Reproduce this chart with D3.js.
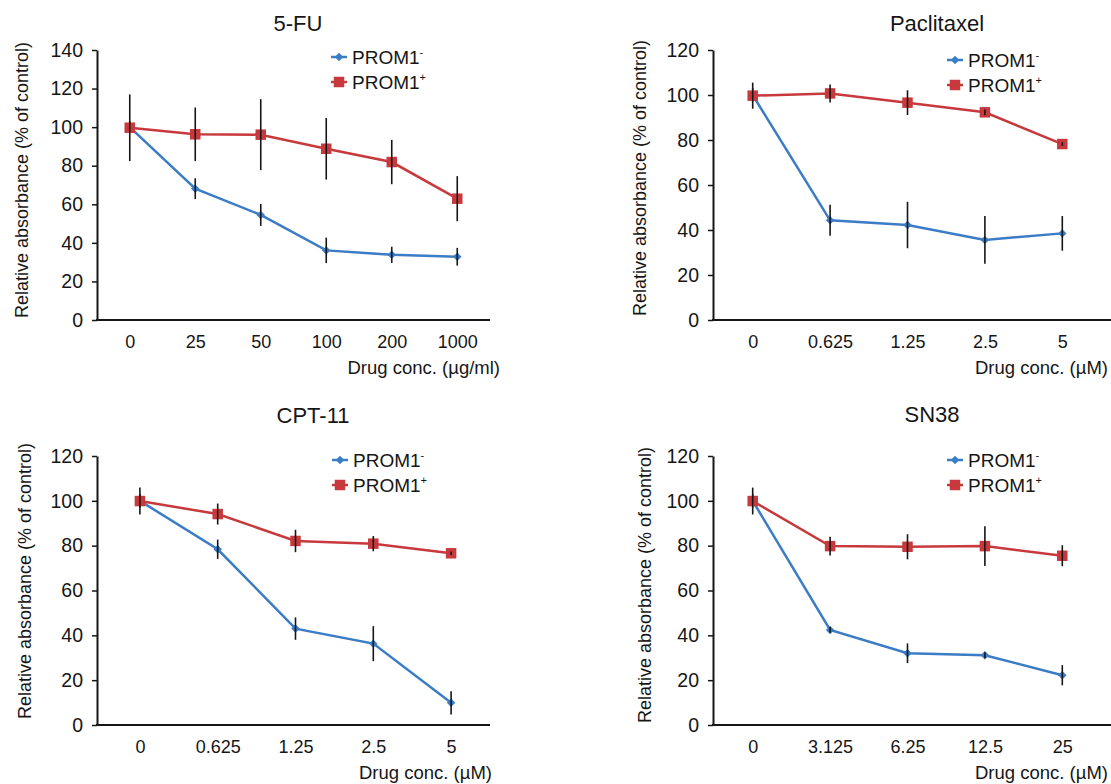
<!DOCTYPE html>
<html>
<head>
<meta charset="utf-8">
<script src="https://cdn.jsdelivr.net/npm/d3@7"></script>
<style>
  body { margin: 0; background: #fff; }
  svg { display: block; font-family: 'Liberation Sans', Arial, sans-serif; }
</style>
</head>
<body>
<svg></svg>
<script>
// global settings

var w = 1111
var h = 784

var blue = '#3b7cc6'
var red = '#c7393c'
var ink = '#161616'

var titles = ['5-FU', 'Paclitaxel', 'CPT-11', 'SN38']
var xUnits = ['Drug conc. (µg/ml)', 'Drug conc. (µM)', 'Drug conc. (µM)', 'Drug conc. (µM)']
var yMax = [140, 120, 120, 120]
var seriesNames = ['PROM1', 'PROM1']
var seriesSup = ['-', '+']

// 5-FU
var doses5FU = ['0', '25', '50', '100', '200', '1000']
var neg5FU = [100, 68.1, 54.5, 36.1, 33.8, 32.8]
var negErr5FU = [3, 5.4, 5.7, 6.6, 4.2, 4.6]
var pos5FU = [99.7, 96.3, 96.1, 88.8, 81.9, 62.9]
var posErr5FU = [17.3, 13.9, 18.4, 16, 11.5, 11.7]

// Paclitaxel
var dosesPac = ['0', '0.625', '1.25', '2.5', '5']
var negPac = [100, 44.3, 42.2, 35.6, 38.5]
var negErrPac = [3, 6.9, 10.3, 10.6, 7.7]
var posPac = [99.7, 100.7, 96.6, 92.3, 78.2]
var posErrPac = [5.8, 4, 5.5, 1.3, 0.8]

// CPT-11
var dosesCpt = ['0', '0.625', '1.25', '2.5', '5']
var negCpt = [100, 78.4, 43, 36.3, 9.9]
var negErrCpt = [3, 4.3, 5, 7.8, 5.2]
var posCpt = [99.9, 94.1, 82.1, 80.9, 76.6]
var posErrCpt = [6, 4.7, 5, 3.4, 0.8]

// SN38
var dosesSn = ['0', '3.125', '6.25', '12.5', '25']
var negSn = [100, 42.4, 32, 31.1, 22.2]
var negErrSn = [3, 1.3, 4.4, 1.3, 4.5]
var posSn = [99.9, 79.8, 79.5, 79.8, 75.5]
var posErrSn = [6, 4.2, 5.6, 8.9, 4.7]

var panels = [
  { doses: doses5FU, neg: neg5FU, negErr: negErr5FU, pos: pos5FU, posErr: posErr5FU },
  { doses: dosesPac, neg: negPac, negErr: negErrPac, pos: posPac, posErr: posErrPac },
  { doses: dosesCpt, neg: negCpt, negErr: negErrCpt, pos: posCpt, posErr: posErrCpt },
  { doses: dosesSn, neg: negSn, negErr: negErrSn, pos: posSn, posErr: posErrSn }
]

// where each panel sits on the page
var layout = [
  { left: 97, x0: 97, x1: 490, top: 50, bottom: 320, axisEnd: 490, titleX: 298, titleY: 31, legX: 339, legY: 57, yTitleX: 22, yTitleY: 180, unitRight: 500 },
  { left: 713, x0: 714, x1: 1101, top: 50, bottom: 320, axisEnd: 1111, titleX: 937, titleY: 31, legX: 955, legY: 60, yTitleX: 640, yTitleY: 178, unitRight: 1108 },
  { left: 97, x0: 101, x1: 490, top: 456, bottom: 725, axisEnd: 490, titleX: 313, titleY: 423, legX: 340, legY: 460, yTitleX: 25, yTitleY: 581, unitRight: 492 },
  { left: 713, x0: 714, x1: 1101, top: 456, bottom: 725, axisEnd: 1111, titleX: 932, titleY: 422, legX: 955, legY: 460, yTitleX: 645, yTitleY: 585, unitRight: 1108 }
]

var svg = d3.select('svg')
    .attr('width', w)
    .attr('height', h)

svg.append('rect')
  .attr('width', w)
  .attr('height', h)
  .attr('fill', '#fff')

var diamond = d3.symbol().type(d3.symbolSquare).size(36)
var square = d3.symbol().type(d3.symbolSquare).size(110)

panels.forEach(function (p, i) {
  draw(p, layout[i], i)
})

// ------------------

function draw (p, L, i) {
  var g = svg.append('g')

  var x = d3.scalePoint()
      .domain(p.doses)
      .range([L.x0, L.x1])
      .padding(0.5)

  var y = d3.scaleLinear()
      .domain([0, yMax[i]])
      .range([L.bottom, L.top])

  // y axis
  var yAxis = d3.axisLeft(y)
      .tickValues(d3.range(0, yMax[i] + 1, 20))
      .tickSize(5)
      .tickSizeOuter(0)
      .tickPadding(9)

  var ya = g.append('g')
      .attr('transform', 'translate(' + L.left + ',0)')
      .call(yAxis)
  ya.select('.domain').attr('stroke', ink).attr('stroke-width', 2)
  ya.selectAll('.tick line').attr('stroke', ink).attr('stroke-width', 1.5)
  ya.selectAll('.tick text')
    .attr('fill', ink)
    .style('font-size', '19.5px')

  // x axis: labels only, baseline drawn by hand
  var xa = g.append('g')
      .attr('transform', 'translate(0,' + L.bottom + ')')
      .call(d3.axisBottom(x).tickSize(0).tickPadding(15))
  xa.select('.domain').remove()
  xa.selectAll('.tick text')
    .attr('fill', ink)
    .style('font-size', '18px')

  g.append('line')
    .attr('x1', L.left - 1)
    .attr('x2', L.axisEnd)
    .attr('y1', L.bottom)
    .attr('y2', L.bottom)
    .attr('stroke', ink)
    .attr('stroke-width', 2)

  // titles
  g.append('text')
    .text(titles[i])
    .attr('x', L.titleX)
    .attr('y', L.titleY)
    .attr('text-anchor', 'middle')
    .attr('fill', ink)
    .style('font-size', '22px')

  g.append('text')
    .text('Relative absorbance (% of control)')
    .attr('transform', 'translate(' + L.yTitleX + ',' + L.yTitleY + ') rotate(-90)')
    .attr('text-anchor', 'middle')
    .attr('dy', '0.35em')
    .attr('fill', ink)
    .style('font-size', '18px')

  g.append('text')
    .text(xUnits[i])
    .attr('x', L.unitRight)
    .attr('y', L.bottom + 54)
    .attr('text-anchor', 'end')
    .attr('fill', ink)
    .style('font-size', '18.5px')

  // series
  var series = [
    { vals: p.neg, err: p.negErr, color: blue, sym: diamond, rot: 45 },
    { vals: p.pos, err: p.posErr, color: red, sym: square, rot: 0 }
  ]

  var line = d3.line()
      .x(function (d) { return x(d.dose) })
      .y(function (d) { return y(d.v) })

  series.forEach(function (s) {
    var pts = p.doses.map(function (d, k) {
      return { dose: d, v: s.vals[k], e: s.err[k] }
    })

    g.append('path')
      .datum(pts)
      .attr('d', line)
      .attr('fill', 'none')
      .attr('stroke', s.color)
      .attr('stroke-width', 2.5)

    g.selectAll(null)
      .data(pts)
      .enter()
      .append('path')
      .attr('d', s.sym)
      .attr('transform', function (d) {
        return 'translate(' + x(d.dose) + ',' + y(d.v) + ') rotate(' + s.rot + ')'
      })
      .attr('fill', s.color)

    g.selectAll(null)
      .data(pts)
      .enter()
      .append('line')
      .attr('x1', function (d) { return x(d.dose) })
      .attr('x2', function (d) { return x(d.dose) })
      .attr('y1', function (d) { return y(d.v + d.e) })
      .attr('y2', function (d) { return y(d.v - d.e) })
      .attr('stroke', ink)
      .attr('stroke-width', 1.6)
  })

  // legend
  series.forEach(function (s, k) {
    var ly = L.legY + k * 25
    g.append('line')
      .attr('x1', L.legX - 8)
      .attr('x2', L.legX + 8)
      .attr('y1', ly)
      .attr('y2', ly)
      .attr('stroke', s.color)
      .attr('stroke-width', 2.5)
    g.append('path')
      .attr('d', s.sym)
      .attr('transform', 'translate(' + L.legX + ',' + ly + ') rotate(' + s.rot + ')')
      .attr('fill', s.color)

    var t = g.append('text')
      .attr('x', L.legX + 13)
      .attr('y', ly + 6.5)
      .attr('fill', ink)
      .style('font-size', '19px')
    t.append('tspan').text(seriesNames[k])
    t.append('tspan')
      .text(seriesSup[k])
      .attr('dy', -8)
      .style('font-size', '11px')
  })
}
</script>
</body>
</html>
